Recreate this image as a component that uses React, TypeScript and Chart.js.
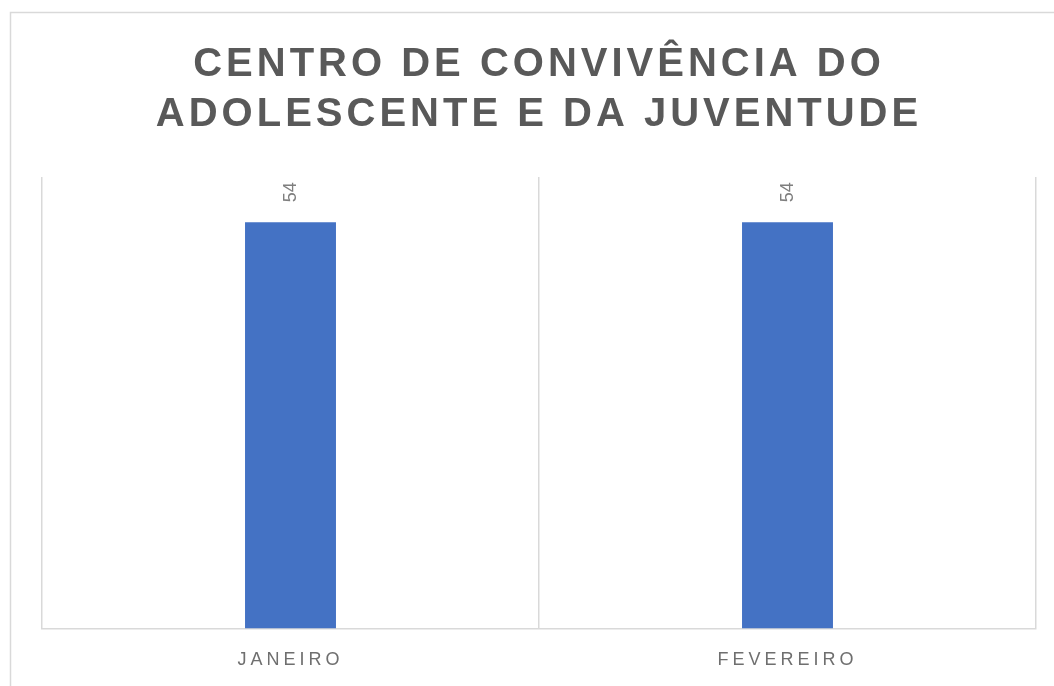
import React, { useEffect, useRef } from "react";
import { Chart, registerables } from "chart.js";

Chart.register(...registerables);

const titleLines = ["CENTRO DE CONVIVÊNCIA DO", "ADOLESCENTE E DA JUVENTUDE"];
const categories = ["JANEIRO", "FEVEREIRO"];
const values = [54, 54];
const yMax = 60;

const framePlugin = {
  id: "frame",
  beforeDraw(chart: any) {
    const ctx = chart.ctx;
    ctx.save();
    ctx.fillStyle = "#ffffff";
    ctx.fillRect(0, 0, chart.width, chart.height);
    ctx.strokeStyle = "#d9d9d9";
    ctx.lineWidth = 1.5;
    ctx.strokeRect(10.5, 12.5, chart.width + 20, chart.height + 20);
    ctx.restore();
    ctx.letterSpacing = "4px";
  },
  afterDatasetsDraw(chart: any) {
    const ctx = chart.ctx;
    const meta = chart.getDatasetMeta(0);
    ctx.save();
    ctx.letterSpacing = "0px";
    ctx.fillStyle = "#7f7f7f";
    ctx.font = "18px 'Liberation Sans', Arial, sans-serif";
    ctx.textAlign = "left";
    ctx.textBaseline = "middle";
    meta.data.forEach((bar: any, i: number) => {
      ctx.save();
      ctx.translate(bar.x, bar.y - 20);
      ctx.rotate(-Math.PI / 2);
      ctx.fillText(String(values[i]), 0, 1);
      ctx.restore();
    });
    ctx.restore();
  },
};

export default function App() {
  const ref = useRef<HTMLCanvasElement>(null);
  useEffect(() => {
    if (!ref.current) return;
    const chart = new Chart(ref.current, {
      type: "bar",
      data: {
        labels: categories,
        datasets: [
          {
            data: values,
            backgroundColor: "#4472c4",
            borderWidth: 0,
            categoryPercentage: 1,
            barPercentage: 0.183,
          },
        ],
      },
      options: {
        animation: false,
        responsive: true,
        maintainAspectRatio: false,
        layout: { padding: { left: 42, right: 18, top: 0, bottom: -6 } },
        plugins: {
          legend: { display: false },
          tooltip: { enabled: false },
          title: {
            display: true,
            text: titleLines,
            color: "#595959",
            font: { family: "'Liberation Sans', Arial, sans-serif", size: 40, weight: "bold", lineHeight: 1.25 },
            padding: { top: 40, bottom: 37 },
          },
        },
        scales: {
          x: {
            grid: { color: "#d9d9d9", lineWidth: 1.5, drawTicks: false, offset: true },
            border: { color: "#d9d9d9", width: 1.5 },
            ticks: {
              color: "#6f6f6f",
              padding: 21,
              font: { family: "'Liberation Sans', Arial, sans-serif", size: 18 },
              maxRotation: 0,
            },
          },
          y: { display: false, min: 0, max: yMax },
        },
      },
      plugins: [framePlugin],
    });
    return () => chart.destroy();
  }, []);
  return (
    <div style={{ position: "fixed", left: 0, top: 0, width: 1054, height: 686, background: "#fff" }}>
      <canvas ref={ref} />
    </div>
  );
}
